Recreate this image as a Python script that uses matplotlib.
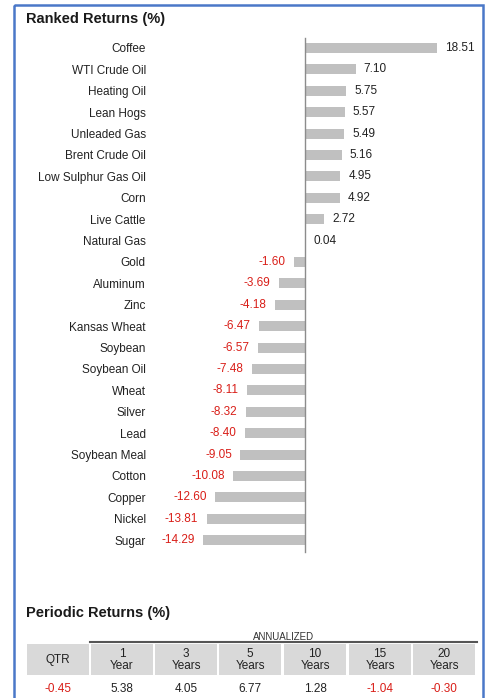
import matplotlib.pyplot as plt
from matplotlib.patches import Rectangle

plt.rcParams['font.family'] = ['Liberation Sans', 'DejaVu Sans']

# Ranked returns data
commodities = ["Coffee", "WTI Crude Oil", "Heating Oil", "Lean Hogs", "Unleaded Gas",
               "Brent Crude Oil", "Low Sulphur Gas Oil", "Corn", "Live Cattle", "Natural Gas",
               "Gold", "Aluminum", "Zinc", "Kansas Wheat", "Soybean", "Soybean Oil",
               "Wheat", "Silver", "Lead", "Soybean Meal", "Cotton", "Copper", "Nickel", "Sugar"]
returns = [18.51, 7.10, 5.75, 5.57, 5.49, 5.16, 4.95, 4.92, 2.72, 0.04,
           -1.60, -3.69, -4.18, -6.47, -6.57, -7.48, -8.11, -8.32, -8.40, -9.05,
           -10.08, -12.60, -13.81, -14.29]

# Periodic returns table
period_headers = ["QTR", "1\nYear", "3\nYears", "5\nYears", "10\nYears", "15\nYears", "20\nYears"]
period_values = [-0.45, 5.38, 4.05, 6.77, 1.28, -1.04, -0.30]

W, H = 486, 698
RED = "#d91e18"
BAR = "#c0c0c0"
TXT = "#222222"

fig = plt.figure(figsize=(W / 100, H / 100), dpi=100)

# bar chart axes placed in pixel coords
ax_l, ax_r, ax_t, ax_b = 150, 470, 30, 560
ax = fig.add_axes([ax_l / W, 1 - ax_b / H, (ax_r - ax_l) / W, (ax_b - ax_t) / H])
scale = 7.13      # px per %
zero_px = 305
ax.set_xlim((ax_l - zero_px) / scale, (ax_r - zero_px) / scale)
row_h, first = 21.4, 48
ax.set_ylim((ax_b - first) / row_h, (ax_t - first) / row_h)

ypos = list(range(len(commodities)))
ax.barh(ypos, returns, height=0.47, color=BAR, zorder=2)
ax.plot([0, 0], [-0.47, 23.55], color="#8c8c8c", lw=1, zorder=3)

for y, v in zip(ypos, returns):
    if v >= 0:
        ax.annotate(f"{v:.2f}", (v, y), xytext=(5.8, 0), textcoords="offset points",
                    ha="left", va="center", fontsize=8.5, color=TXT)
    else:
        ax.annotate(f"{v:.2f}", (v, y), xytext=(-6, 0), textcoords="offset points",
                    ha="right", va="center", fontsize=8.5, color=RED)

ax.set_yticks(ypos)
ax.set_yticklabels(commodities, fontsize=8.5, color=TXT)
ax.tick_params(axis="y", length=0, pad=3)
ax.set_xticks([])
for s in ax.spines.values():
    s.set_visible(False)

# overlay axes in pixel coords for frame, titles and table
ov = fig.add_axes([0, 0, 1, 1], zorder=-1)
ov.set_xlim(0, W)
ov.set_ylim(H, 0)
ov.axis("off")

ov.add_patch(Rectangle((14, 5), 469, 720, fill=False, edgecolor="#4a78c8", lw=1.8))
ov.text(26, 19, "Ranked Returns (%)", fontsize=10.5, fontweight="bold", va="center", color="#1a1a1a")
ov.text(26, 613, "Periodic Returns (%)", fontsize=10.5, fontweight="bold", va="center", color="#1a1a1a")

# table
col_x = [27, 91, 155, 219, 284, 349, 413]
col_w = 62
ov.text((91 + 476) / 2, 637, "ANNUALIZED", fontsize=7, ha="center", va="center", color="#333333")
ov.plot([90, 477], [642, 642], color="#555555", lw=1.5)
for x, hdr, val in zip(col_x, period_headers, period_values):
    ov.add_patch(Rectangle((x, 644), col_w, 31, color="#d9d9d9", lw=0))
    ov.text(x + col_w / 2, 660, hdr, fontsize=8.5, ha="center", va="center",
            color=TXT, linespacing=1.05)
    ov.text(x + col_w / 2, 689, f"{val:.2f}", fontsize=8.5, ha="center", va="center",
            color=RED if val < 0 else TXT)

fig.savefig("out.png", dpi=100)
